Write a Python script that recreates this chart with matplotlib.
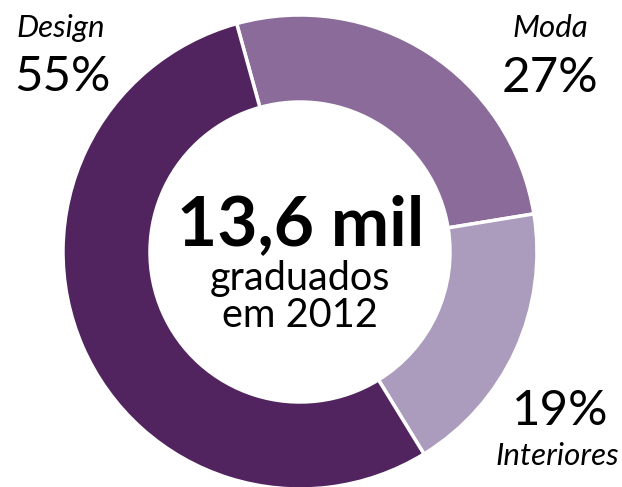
import matplotlib
matplotlib.use("Agg")
import matplotlib.pyplot as plt

plt.rcParams['font.family'] = ['Lato', 'DejaVu Sans']

# share of graduates by area
areas = ["Moda", "Interiores", "Design"]
shares = [27, 19, 55]
colors = ["#8a6b9a", "#ab9bbd", "#52245f"]

W, H = 622, 487
fig = plt.figure(figsize=(W / 100, H / 100), dpi=100)
ax = fig.add_axes([0, 0, 1, 1])

cx, cy, R = 300, H - 252, 237
ax.pie(shares, colors=colors, startangle=105.5, counterclock=False,
       center=(cx, cy), radius=R, frame=True,
       wedgeprops=dict(width=87, edgecolor="white", linewidth=2.5))
ax.set_xlim(0, W)
ax.set_ylim(0, H)
ax.set_aspect("equal")
ax.axis("off")

# centre caption
ax.text(cx + 1, H - 245, "13,6 mil", ha="center", va="baseline",
        fontsize=50, fontweight="bold")
ax.text(cx, H - 290, "graduados", ha="center", va="baseline", fontsize=28.5)
ax.text(cx, H - 327, "em 2012", ha="center", va="baseline", fontsize=28.5)

# labels beside each segment
pct = {a: f"{v}%" for a, v in zip(areas, shares)}
lab, num = 22.5, 35.5
ax.text(61, H - 37, "Design", ha="center", va="baseline", fontsize=lab, style="italic")
ax.text(62, H - 91, pct["Design"], ha="center", va="baseline", fontsize=num)
ax.text(550, H - 37, "Moda", ha="center", va="baseline", fontsize=lab, style="italic")
ax.text(550, H - 92, pct["Moda"], ha="center", va="baseline", fontsize=num)
ax.text(560, H - 425, pct["Interiores"], ha="center", va="baseline", fontsize=num)
ax.text(557, H - 465, "Interiores", ha="center", va="baseline", fontsize=lab, style="italic")

fig.savefig("out.png", dpi=100)
